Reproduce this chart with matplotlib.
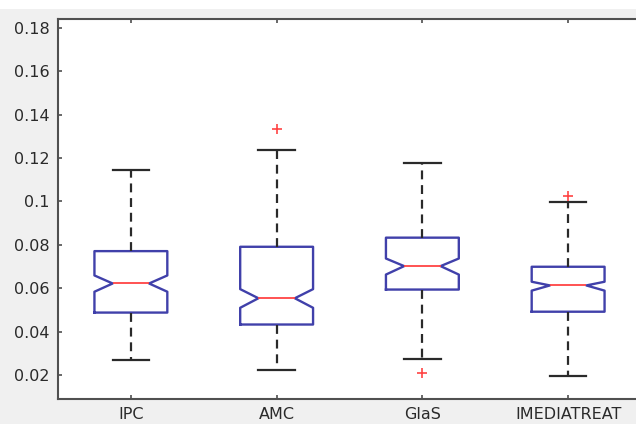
import matplotlib
matplotlib.use("Agg")
import matplotlib.pyplot as plt
from matplotlib.patches import Rectangle

categories = ["IPC", "AMC", "GlaS", "IMEDIATREAT"]
q1 = [0.0488, 0.0433, 0.0594, 0.0492]
med = [0.0622, 0.0554, 0.0702, 0.0613]
q3 = [0.0771, 0.0791, 0.0833, 0.0699]
whislo = [0.0268, 0.0222, 0.0272, 0.0196]
whishi = [0.1145, 0.1237, 0.1175, 0.0999]
cilo = [0.0584, 0.0510, 0.0663, 0.0589]
cihi = [0.0659, 0.0596, 0.0737, 0.0630]
fliers = [[], [0.1332], [0.0212], [0.1025]]
yticks = [0.02, 0.04, 0.06, 0.08, 0.1, 0.12, 0.14, 0.16, 0.18]
ytick_labels = ["0.02", "0.04", "0.06", "0.08", "0.1", "0.12", "0.14", "0.16", "0.18"]

stats = []
for i, c in enumerate(categories):
    stats.append(dict(label=c, q1=q1[i], med=med[i], q3=q3[i],
                      whislo=whislo[i], whishi=whishi[i],
                      cilo=cilo[i], cihi=cihi[i], fliers=fliers[i]))

fig = plt.figure(figsize=(6.36, 4.24), dpi=100, facecolor="#f0f0f0")
fig.patches.append(Rectangle((0, 1 - 9 / 424), 1, 9 / 424, transform=fig.transFigure,
                             facecolor="white", edgecolor="none", zorder=-1))
ax = fig.add_axes([58 / 636, 1 - 399 / 424, (641 - 58) / 636, (399 - 19) / 424])
ax.set_facecolor("white")

blue = "#4040aa"
red = "#ff4444"
dark = "#2a2a2a"
ax.bxp(stats, positions=[1, 2, 3, 4], widths=0.5, shownotches=True,
       boxprops=dict(color=blue, linewidth=1.7),
       medianprops=dict(color=red, linewidth=1.3),
       whiskerprops=dict(color=dark, linewidth=1.6, linestyle=(0, (4, 2.6))),
       capprops=dict(color=dark, linewidth=1.6),
       flierprops=dict(marker="+", markeredgecolor=red, markersize=7.5,
                       markeredgewidth=1.2, linestyle="none"))

ax.set_xlim(0.5, 4.5)
ax.set_ylim(0.009, 0.184)
ax.set_yticks(yticks)
ax.set_yticklabels(ytick_labels)
ax.set_xticks([1, 2, 3, 4])
ax.set_xticklabels(categories)
for s in ax.spines.values():
    s.set_color("#505050")
    s.set_linewidth(1.5)
ax.tick_params(direction="in", top=True, right=True, length=3, width=1.1,
               color="#404040", labelsize=11.5, labelcolor="#2a2a2a", pad=6)
for lab in ax.get_xticklabels() + ax.get_yticklabels():
    lab.set_family("DejaVu Sans")

fig.savefig("out.png", dpi=100, facecolor=fig.get_facecolor())
